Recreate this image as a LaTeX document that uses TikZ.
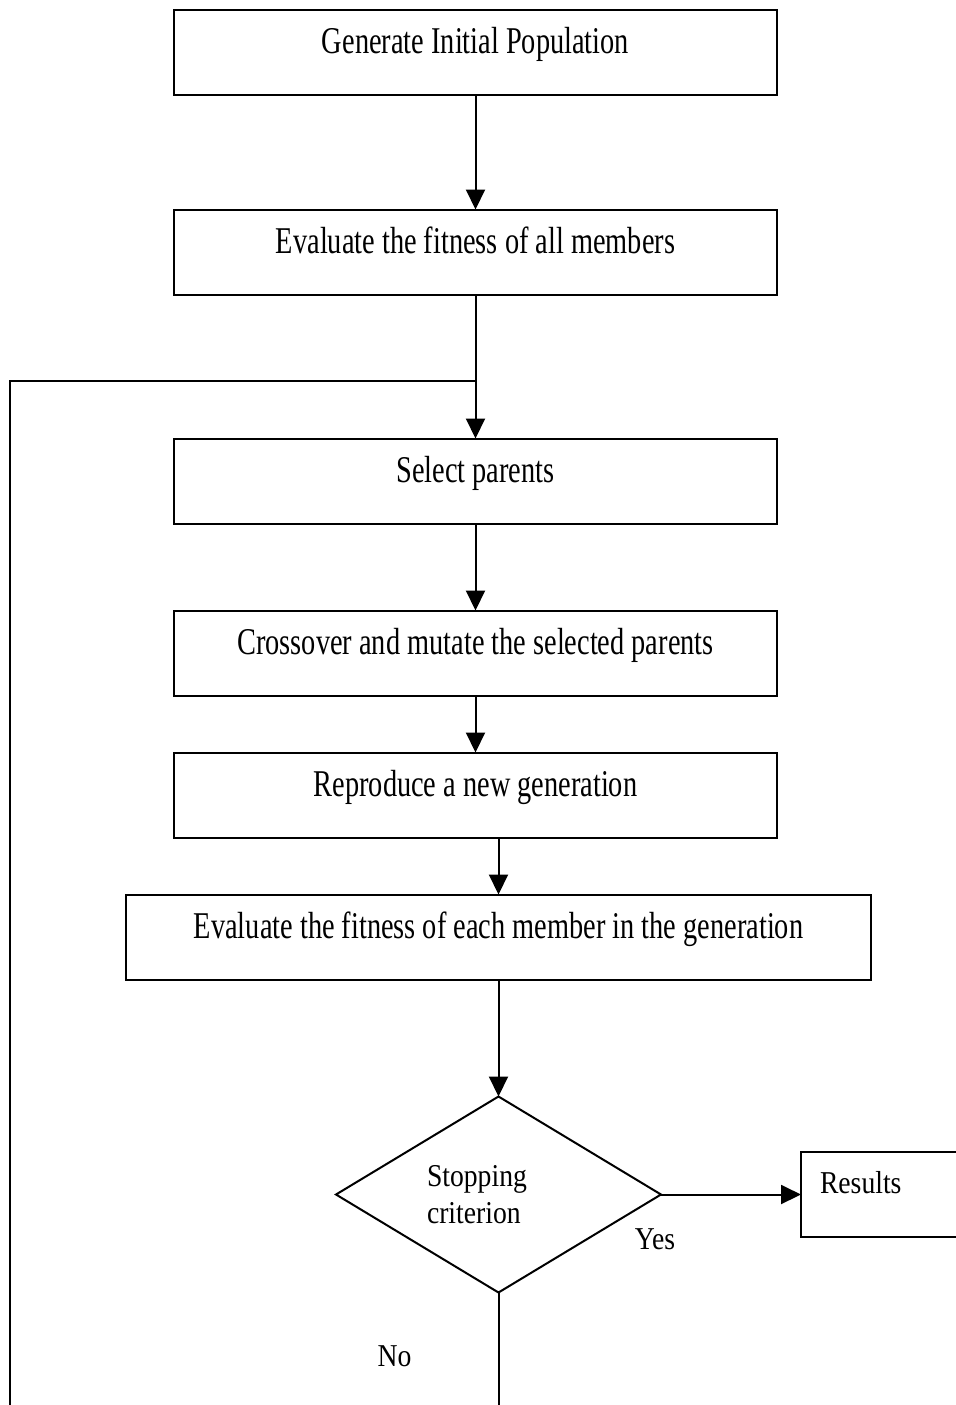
\documentclass[tikz,border=0pt]{standalone}
\usepackage{fontspec}
\setmainfont{Liberation Serif}[FakeStretch=0.75]
\newfontfamily\labelfont{Liberation Serif}[FakeStretch=0.87]
\usetikzlibrary{shapes.geometric,arrows.meta,positioning}

\begin{document}
\begin{tikzpicture}[
        x=0.5pt, y=-0.5pt,
        line width=1pt,
        box/.style={rectangle, draw, outer sep=0pt, minimum width=301.5pt, inner ysep=0pt, text height=22pt, text depth=20.5pt, font=\fontsize{18.9}{22}\selectfont},
        decision/.style={diamond, draw, outer sep=0pt, aspect=1.66, minimum width=162.5pt, minimum height=98pt, inner sep=0pt, text width=71.5pt, align=left, font=\labelfont\fontsize{15.9}{18.5}\selectfont},
        outbox/.style={rectangle, draw, outer sep=0pt, inner xsep=9.5pt, inner ysep=0pt, text width=70pt, align=left, text height=20.5pt, text depth=22pt, font=\labelfont\fontsize{15.9}{18.5}\selectfont},
        tag/.style={inner sep=0pt, font=\labelfont\fontsize{15.9}{18.5}\selectfont},
        arrow/.style={-{Triangle[length=10pt, width=9.5pt]}}
    ]
        \useasboundingbox (0,0) rectangle (956,1405);
        \clip (0,0) rectangle (956,1405);

        \node[box] (gen) at (475.5,52) {Generate Initial Population};
        \node[box, below=57.5pt of gen] (evalall) {Evaluate the fitness of all members};
        \node[box, below=72pt of evalall] (select) {Select parents};
        \node[box, below=43.5pt of select] (cross) {Crossover and mutate the selected parents};
        \node[box, below=28.5pt of cross] (repro) {Reproduce a new generation};
        \node[box, below=28.5pt of repro, xshift=11.5pt, minimum width=372.5pt] (evaleach) {Evaluate the fitness of each member in the generation};
        \node[decision, below=58.5pt of evaleach] (decide) {Stopping\\criterion};
        \node[outbox, right=70pt of decide] (results) {Results};

        \coordinate (looptop) at (10,381);
        \coordinate (loopbot) at (10,1420);
        \coordinate (join) at (evalall.south |- looptop);

        \draw[arrow] (gen) -- (evalall);
        \draw[arrow] (evalall) -- (select);
        \draw[arrow] (select) -- (cross);
        \draw[arrow] (cross) -- (repro);
        \draw[arrow] (repro.south -| evaleach.north) -- (evaleach.north);
        \draw[arrow] (evaleach) -- (decide);
        \draw[arrow] (decide) -- node[tag, pos=0, anchor=north, xshift=-3pt, yshift=-16.5pt] {Yes} (results);
        \draw (decide) -- node[tag, left=43pt] {No} (decide.south |- loopbot) -- (loopbot) -- (looptop) -- (join);
    \end{tikzpicture}
\end{document}
